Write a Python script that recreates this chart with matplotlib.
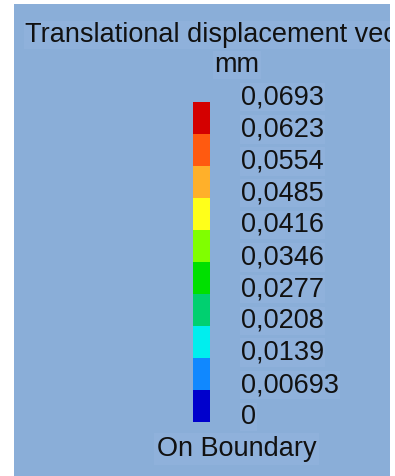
import matplotlib
matplotlib.use("Agg")
import matplotlib.pyplot as plt
import matplotlib.transforms as mtransforms
import numpy as np

# ---- data ----
title = "Translational displacement vec"
unit = "mm"
levels = [0, 0.00693, 0.0139, 0.0208, 0.0277, 0.0346, 0.0416, 0.0485, 0.0554, 0.0623, 0.0693]
level_labels = ["0", "0,00693", "0,0139", "0,0208", "0,0277", "0,0346",
                "0,0416", "0,0485", "0,0554", "0,0623", "0,0693"]
seg_colors = ["#0000cc", "#1088ff", "#00eeee", "#00d070", "#00e000",
              "#80ff00", "#ffff1a", "#ffb02a", "#ff5a10", "#d40000"]
footer = "On Boundary"

W, H = 395, 476
BG = "#8aaed8"
HL = "#8fb1db"
fig = plt.figure(figsize=(W / 100, H / 100), dpi=100)
fig.patch.set_facecolor("white")

def fx(x):
    return x / W

def fy(y):
    return 1 - y / H

# background panel
bg = fig.add_axes([fx(14), fy(476), fx(390) - fx(14), fy(4) - fy(476)])
bg.set_facecolor(BG)
bg.set_xlim(14, 390)
bg.set_ylim(476, 4)
bg.set_xticks([]); bg.set_yticks([])
for s in bg.spines.values():
    s.set_visible(False)

FS = 19.5
FAM = "Liberation Sans"
bg.text(25, 42, title, fontsize=FS, family=FAM, va="baseline", ha="left",
        color="#111111", clip_on=True,
        bbox=dict(facecolor=HL, edgecolor="none", pad=1))
bg.text(237, 72, unit, fontsize=FS, family=FAM, va="baseline", ha="center",
        color="#111111", bbox=dict(facecolor=HL, edgecolor="none", pad=1))
bg.text(157, 456, footer, fontsize=FS, family=FAM, va="baseline", ha="left",
        color="#111111", bbox=dict(facecolor=HL, edgecolor="none", pad=2))

# color bar
cb = fig.add_axes([fx(193), fy(422), fx(210) - fx(193), fy(102) - fy(422)])
cb.set_xlim(0, 1)
cb.set_ylim(levels[0], levels[-1])
bottoms = np.array(levels[:-1])
heights = np.diff(levels)
cb.bar(0.5, heights, bottom=bottoms, width=1.0, color=seg_colors, edgecolor="none")
cb.axis("off")

offset = mtransforms.ScaledTranslation(0, -2 / 100, fig.dpi_scale_trans)
tr = mtransforms.blended_transform_factory(fig.transFigure, cb.transData) + offset
for lv, lab in zip(levels, level_labels):
    fig.text(fx(241), lv, lab, transform=tr, fontsize=FS, family=FAM,
             va="baseline", ha="left", color="#111111",
             bbox=dict(facecolor=HL, edgecolor="none", pad=1))

fig.savefig("out.png", dpi=100, facecolor=fig.get_facecolor())
